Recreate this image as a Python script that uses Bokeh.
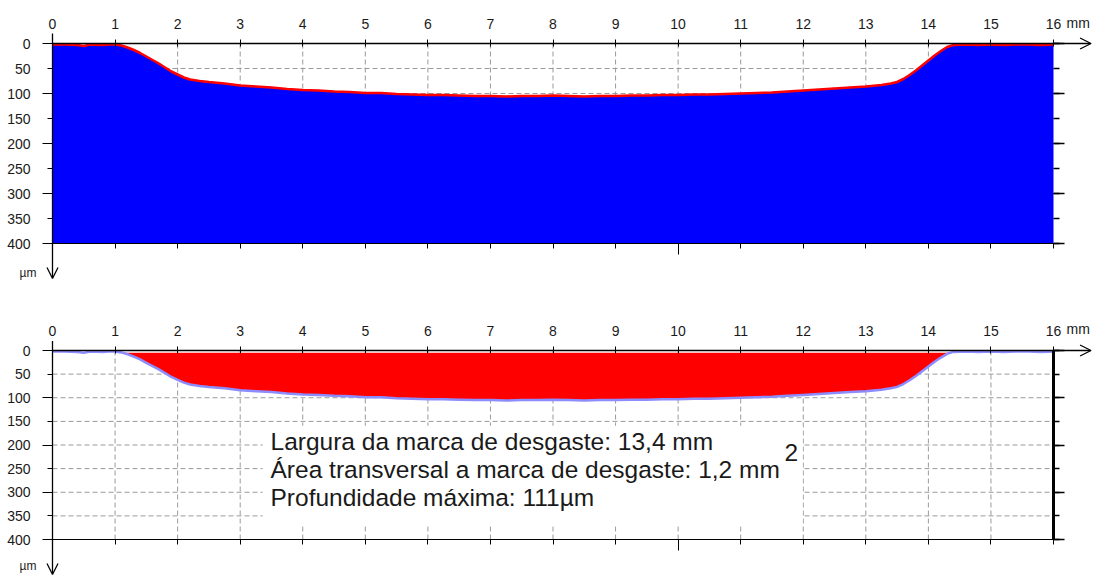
import numpy as np
from bokeh.plotting import figure
from bokeh.models import (Range1d, FixedTicker, LinearAxis, Label, Arrow,
                          OpenHead, BoxAnnotation)
from bokeh.layouts import column
from bokeh.embed import file_html
from bokeh.resources import INLINE

# ---------------- data ----------------
x_mm = [0.0, 0.2, 0.4, 0.5, 0.6, 0.8, 0.9, 1.0, 1.1, 1.2,
        1.3, 1.4, 1.5, 1.6, 1.7, 1.8, 1.9, 2.0, 2.1, 2.2,
        2.35, 2.5, 2.75, 3.0, 3.25, 3.5, 3.75, 4.0, 4.25, 4.5,
        4.75, 5.0, 5.25, 5.5, 5.75, 6.0, 6.25, 6.5, 6.75, 7.0,
        7.25, 7.5, 7.75, 8.0, 8.25, 8.5, 8.75, 9.0, 9.25, 9.5,
        9.75, 10.0, 10.25, 10.5, 10.75, 11.0, 11.25, 11.5, 11.75, 12.0,
        12.25, 12.5, 12.75, 13.0, 13.25, 13.4, 13.5, 13.6, 13.7, 13.8,
        13.9, 14.0, 14.1, 14.2, 14.3, 14.4, 14.6, 14.8, 15.0, 15.2,
        15.4, 15.6, 15.8, 16.0]
depth_um = [2, 2, 3, 5, 2, 3, 2, 2, 4, 8,
            13, 19, 26, 33, 40, 48, 56, 62, 68, 72,
            75, 77, 80, 84, 86, 88, 91, 93, 94, 96,
            97, 99, 99, 101, 102, 103, 103, 104, 105, 105,
            106, 105, 105, 104, 105, 106, 105, 105, 104, 104,
            103, 103, 102, 102, 101, 100, 99, 98, 96, 94,
            92, 90, 88, 86, 83, 80, 77, 71, 63, 54,
            44, 34, 24, 15, 7, 3, 2, 3, 2, 3,
            2, 2, 3, 2]

x_ticks = list(range(0, 17))
y_ticks = list(range(0, 401, 50))
y_long_ticks = [0, 100, 200, 300, 400]
x_long_ticks = [10]
wear_baseline = 5

info_lines = ["Largura da marca de desgaste: 13,4 mm",
              "Área transversal a marca de desgaste: 1,2 mm",
              "Profundidade máxima: 111µm"]
info_y = [193, 252, 311]
info_sup = "2"

FONT = "Liberation Sans"
TXT = "#1a1a1a"
GRID = "#9a9a9a"
TICK_FS = "14px"
W = 1097
PX_LEFT = 52.0            # pixel of x = 0
PX_PER_MM = 1001.0 / 16   # pixels per mm


def make_panel(height, px_zero, px_per_um):
    # frame fills the whole figure; axes sit at fixed data locations
    xr = Range1d(-PX_LEFT / PX_PER_MM, (W - PX_LEFT) / PX_PER_MM)
    yr = Range1d((height - px_zero) / px_per_um, -px_zero / px_per_um)
    p = figure(width=W, height=height, x_range=xr, y_range=yr,
               x_axis_location=None, y_axis_location=None,
               output_backend="svg", toolbar_location=None,
               min_border=0, min_border_left=0, min_border_right=0,
               min_border_top=0, min_border_bottom=0,
               outline_line_color=None, background_fill_color="white",
               border_fill_color="white")
    p.xgrid.visible = False
    p.ygrid.visible = False

    # dashed grid between the axes, from the tick lists
    gx = x_ticks[1:-1]
    gy = y_ticks[1:-1]
    p.segment(x0=gx, y0=[0] * len(gx), x1=gx, y1=[400] * len(gx),
              line_color=GRID, line_dash="5 3", line_width=1)
    p.segment(x0=[0] * len(gy), y0=gy, x1=[16] * len(gy), y1=gy,
              line_color=GRID, line_dash="5 3", line_width=1)

    # top axis with labels
    xa = LinearAxis(fixed_location=0, bounds=(0, 16),
                    ticker=FixedTicker(ticks=x_ticks, minor_ticks=[]),
                    major_tick_in=3, major_tick_out=4,
                    major_label_standoff=11,
                    major_label_text_font=FONT,
                    major_label_text_font_size=TICK_FS,
                    major_label_text_color=TXT,
                    axis_line_color=None)
    p.add_layout(xa, "above")
    # left axis with labels
    ya = LinearAxis(fixed_location=0, bounds=(0, 400),
                    ticker=FixedTicker(ticks=y_ticks, minor_ticks=y_long_ticks),
                    major_tick_in=0, major_tick_out=5,
                    minor_tick_in=0, minor_tick_out=10,
                    major_label_standoff=12,
                    major_label_text_font=FONT,
                    major_label_text_font_size=TICK_FS,
                    major_label_text_color=TXT,
                    axis_line_color=None)
    p.add_layout(ya, "left")
    return p


def add_tick_axes(p, right_line_width, right_line_color):
    # bottom axis: short ticks at every mm, long tick at 10 mm (no labels)
    b1 = LinearAxis(fixed_location=400, bounds=(0, 16),
                    ticker=FixedTicker(ticks=[], minor_ticks=x_ticks),
                    minor_tick_in=0, minor_tick_out=5,
                    axis_line_color="black", axis_line_width=1.2)
    b2 = LinearAxis(fixed_location=400, bounds=(0, 16),
                    ticker=FixedTicker(ticks=[], minor_ticks=x_long_ticks),
                    minor_tick_in=0, minor_tick_out=11,
                    axis_line_color=None)
    p.add_layout(b1, "below")
    p.add_layout(b2, "below")
    # right axis: short ticks every 50, long ticks every 100 (no labels)
    r1 = LinearAxis(fixed_location=16, bounds=(0, 400),
                    ticker=FixedTicker(ticks=[], minor_ticks=y_ticks),
                    minor_tick_in=0, minor_tick_out=6, minor_tick_line_width=1.5,
                    axis_line_color=right_line_color,
                    axis_line_width=right_line_width)
    r2 = LinearAxis(fixed_location=16, bounds=(0, 400),
                    ticker=FixedTicker(ticks=[], minor_ticks=y_long_ticks),
                    minor_tick_in=0, minor_tick_out=11, minor_tick_line_width=1.5,
                    axis_line_color=None)
    p.add_layout(r1, "right")
    p.add_layout(r2, "right")


def add_arrows_and_units(p, mm_y, um_y, down_end):
    p.add_layout(Arrow(end=OpenHead(size=11, line_width=1.3, line_color="black"),
                       x_start=0, y_start=0, x_end=16.6, y_end=0,
                       line_width=1.3, line_color="black"))
    p.add_layout(Arrow(end=OpenHead(size=11, line_width=1.3, line_color="black"),
                       x_start=0, y_start=-20, x_end=0, y_end=down_end,
                       line_width=1.3, line_color="black"))
    p.add_layout(Label(x=16, y=mm_y, x_offset=13, text="mm", text_align="left",
                       text_baseline="middle", text_font=FONT,
                       text_font_size=TICK_FS, text_color=TXT))
    p.add_layout(Label(x=0, y=um_y, x_offset=-16, text="µm", text_align="right",
                       text_baseline="middle", text_font=FONT,
                       text_font_size="12px", text_color=TXT))


# ---------------- top panel ----------------
top = make_panel(300, 43.0, 0.5)
top.varea(x=x_mm, y1=depth_um, y2=400, fill_color="#0000ff")
top.line(x_mm, depth_um, line_color="#ff0000", line_width=2.5)
add_tick_axes(top, 1, None)
add_arrows_and_units(top, -41, 458, 470)

# ---------------- bottom panel ----------------
bot = make_panel(276, 50.0, 189.0 / 400)
d = np.array(depth_um, dtype=float)
bot.varea(x=x_mm, y1=np.full_like(d, wear_baseline),
          y2=np.maximum(d, wear_baseline), fill_color="#ff0000")
bot.line(x_mm, depth_um, line_color="#8c8cff", line_width=2.5)
add_tick_axes(bot, 3, "black")
add_arrows_and_units(bot, -45, 457, 474)

bot.add_layout(BoxAnnotation(left=3.36, right=11.99, top=159, bottom=372,
                             fill_color="white", fill_alpha=1.0,
                             line_color=None))
for txt, yy in zip(info_lines, info_y):
    bot.add_layout(Label(x=3.485, y=yy, text=txt, text_align="left",
                         text_baseline="middle", text_font=FONT,
                         text_font_size="24.5px", text_color=TXT))
bot.add_layout(Label(x=11.7, y=216, text=info_sup, text_align="left",
                     text_baseline="middle", text_font=FONT,
                     text_font_size="24.5px", text_color=TXT))

layout = column(top, bot, spacing=0)
open("out.html", "w").write(file_html(layout, INLINE))
